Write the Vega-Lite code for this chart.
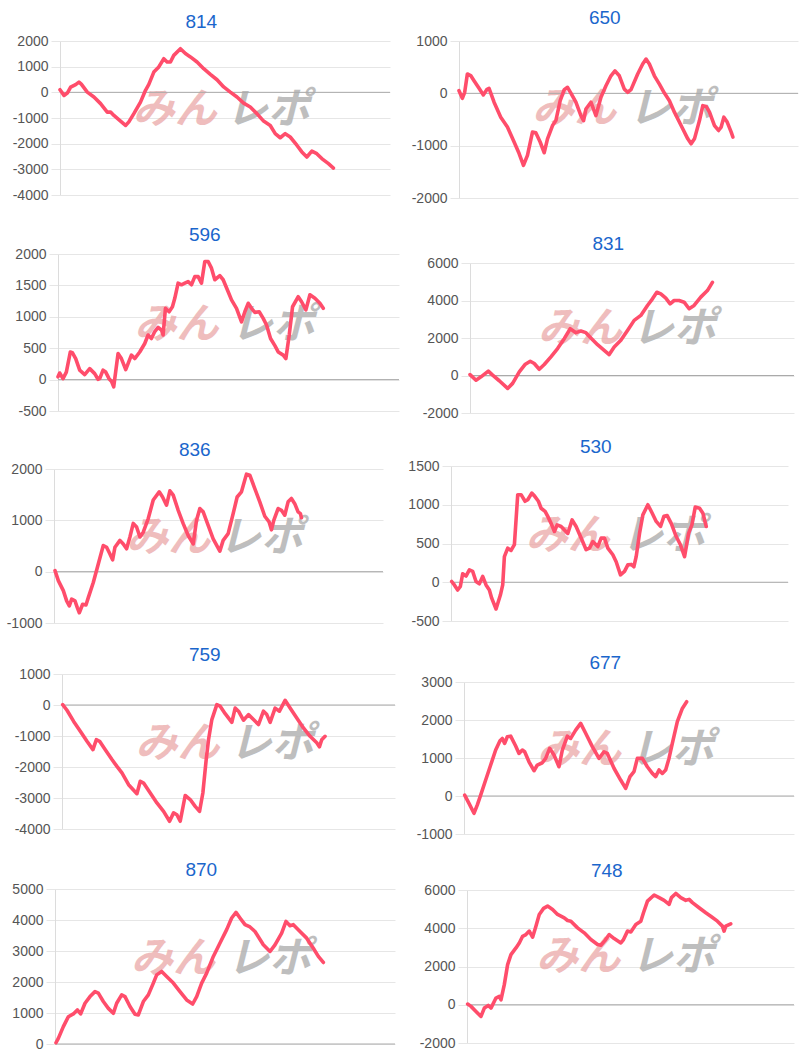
{
"$schema": "https://vega.github.io/schema/vega-lite/v6.json",
"background": "white",
"padding": {"left": 0, "top": 9, "right": 0, "bottom": 0},
"config": {
  "view": {"stroke": null},
  "axis": {"grid": true, "gridColor": "#e6e6e6", "domainColor": "#dcdcdc", "tickColor": "#e6e6e6", "tickSize": 9, "labelPadding": 3, "labelFont": "Liberation Sans", "labelFontSize": 14, "labelColor": "#555555", "labelOverlap": false, "title": null, "labelExpr": "toString(datum.value)", "minExtent": 48, "maxExtent": 48},
  "title": {"font": "Liberation Sans", "fontSize": 19, "fontWeight": "normal", "color": "#1a66cc", "anchor": "middle", "frame": "bounds", "offset": 2},
  "line": {"color": "#ff4d6b", "strokeWidth": 3.6, "strokeJoin": "round", "strokeCap": "round"},
  "text": {"font": "Noto Sans CJK JP", "fontSize": 42, "fontWeight": "bold", "fontStyle": "italic", "align": "center", "baseline": "middle"},
  "point": {"opacity": 0}
},
"datasets": {
"d814": [{"x":0,"y":100},{"x":12,"y":-120},{"x":22,"y":-30},{"x":32,"y":200},{"x":47,"y":300},{"x":57,"y":400},{"x":64,"y":320},{"x":82,"y":10},{"x":102,"y":-180},{"x":122,"y":-440},{"x":142,"y":-770},{"x":152,"y":-770},{"x":162,"y":-900},{"x":182,"y":-1120},{"x":197,"y":-1290},{"x":207,"y":-1150},{"x":222,"y":-830},{"x":242,"y":-380},{"x":257,"y":80},{"x":267,"y":310},{"x":282,"y":790},{"x":297,"y":990},{"x":312,"y":1310},{"x":322,"y":1180},{"x":332,"y":1180},{"x":342,"y":1440},{"x":362,"y":1700},{"x":377,"y":1510},{"x":392,"y":1380},{"x":412,"y":1180},{"x":432,"y":920},{"x":452,"y":700},{"x":472,"y":490},{"x":492,"y":210},{"x":512,"y":10},{"x":532,"y":-180},{"x":552,"y":-420},{"x":572,"y":-570},{"x":592,"y":-830},{"x":612,"y":-1120},{"x":632,"y":-1290},{"x":647,"y":-1610},{"x":662,"y":-1770},{"x":677,"y":-1610},{"x":692,"y":-1740},{"x":712,"y":-2060},{"x":727,"y":-2320},{"x":742,"y":-2520},{"x":757,"y":-2290},{"x":772,"y":-2390},{"x":787,"y":-2580},{"x":807,"y":-2780},{"x":822,"y":-2950}],
"d650": [{"x":0,"y":50},{"x":10,"y":-95},{"x":17,"y":20},{"x":25,"y":370},{"x":35,"y":340},{"x":45,"y":240},{"x":60,"y":95},{"x":73,"y":-30},{"x":83,"y":70},{"x":90,"y":95},{"x":105,"y":-170},{"x":125,"y":-455},{"x":145,"y":-645},{"x":165,"y":-930},{"x":180,"y":-1150},{"x":193,"y":-1375},{"x":205,"y":-1185},{"x":220,"y":-740},{"x":230,"y":-755},{"x":243,"y":-930},{"x":255,"y":-1135},{"x":265,"y":-870},{"x":280,"y":-615},{"x":290,"y":-520},{"x":303,"y":-140},{"x":315,"y":70},{"x":325,"y":115},{"x":335,"y":5},{"x":350,"y":-170},{"x":365,"y":-425},{"x":373,"y":-520},{"x":380,"y":-300},{"x":395,"y":-170},{"x":410,"y":-425},{"x":425,"y":-75},{"x":440,"y":145},{"x":455,"y":335},{"x":467,"y":430},{"x":480,"y":335},{"x":495,"y":80},{"x":505,"y":20},{"x":515,"y":70},{"x":535,"y":370},{"x":550,"y":560},{"x":560,"y":655},{"x":570,"y":560},{"x":585,"y":335},{"x":600,"y":175},{"x":615,"y":5},{"x":630,"y":-140},{"x":645,"y":-360},{"x":665,"y":-615},{"x":685,"y":-870},{"x":695,"y":-965},{"x":705,"y":-870},{"x":720,"y":-520},{"x":730,"y":-235},{"x":740,"y":-250},{"x":750,"y":-360},{"x":765,"y":-615},{"x":777,"y":-710},{"x":785,"y":-645},{"x":793,"y":-455},{"x":803,"y":-550},{"x":815,"y":-740},{"x":820,"y":-835}],
"d596": [{"x":0,"y":45},{"x":5,"y":105},{"x":15,"y":15},{"x":25,"y":120},{"x":37,"y":440},{"x":43,"y":430},{"x":53,"y":335},{"x":65,"y":150},{"x":80,"y":80},{"x":95,"y":175},{"x":110,"y":95},{"x":120,"y":5},{"x":125,"y":15},{"x":135,"y":150},{"x":143,"y":120},{"x":153,"y":15},{"x":160,"y":-25},{"x":167,"y":-115},{"x":180,"y":415},{"x":190,"y":335},{"x":203,"y":160},{"x":210,"y":255},{"x":220,"y":390},{"x":230,"y":335},{"x":245,"y":440},{"x":260,"y":575},{"x":270,"y":710},{"x":280,"y":655},{"x":290,"y":765},{"x":300,"y":830},{"x":310,"y":790},{"x":315,"y":710},{"x":322,"y":1135},{"x":333,"y":1080},{"x":343,"y":1160},{"x":350,"y":1295},{"x":360,"y":1535},{"x":370,"y":1510},{"x":380,"y":1535},{"x":390,"y":1560},{"x":400,"y":1510},{"x":410,"y":1640},{"x":420,"y":1640},{"x":430,"y":1535},{"x":440,"y":1880},{"x":450,"y":1880},{"x":460,"y":1775},{"x":470,"y":1590},{"x":485,"y":1655},{"x":495,"y":1590},{"x":510,"y":1400},{"x":520,"y":1270},{"x":535,"y":1135},{"x":550,"y":920},{"x":560,"y":1080},{"x":570,"y":1215},{"x":580,"y":1135},{"x":590,"y":1070},{"x":603,"y":1080},{"x":615,"y":975},{"x":625,"y":870},{"x":637,"y":655},{"x":650,"y":540},{"x":660,"y":440},{"x":675,"y":390},{"x":683,"y":335},{"x":693,"y":710},{"x":703,"y":1160},{"x":720,"y":1320},{"x":730,"y":1240},{"x":743,"y":1110},{"x":755,"y":1350},{"x":770,"y":1295},{"x":785,"y":1215},{"x":795,"y":1135}],
"d831": [{"x":0,"y":50},{"x":18,"y":-250},{"x":33,"y":-70},{"x":55,"y":230},{"x":68,"y":20},{"x":88,"y":-280},{"x":113,"y":-690},{"x":128,"y":-420},{"x":148,"y":195},{"x":165,"y":585},{"x":181,"y":760},{"x":193,"y":640},{"x":208,"y":335},{"x":223,"y":585},{"x":243,"y":990},{"x":263,"y":1435},{"x":283,"y":1965},{"x":301,"y":2495},{"x":318,"y":2285},{"x":333,"y":2370},{"x":348,"y":2285},{"x":363,"y":2000},{"x":383,"y":1645},{"x":403,"y":1345},{"x":418,"y":1115},{"x":433,"y":1520},{"x":453,"y":1875},{"x":473,"y":2405},{"x":493,"y":2940},{"x":513,"y":3205},{"x":533,"y":3735},{"x":548,"y":4090},{"x":561,"y":4440},{"x":573,"y":4350},{"x":588,"y":4125},{"x":601,"y":3820},{"x":613,"y":4000},{"x":628,"y":4000},{"x":643,"y":3910},{"x":658,"y":3560},{"x":673,"y":3735},{"x":693,"y":4180},{"x":713,"y":4530},{"x":728,"y":4970}],
"d836": [{"x":3,"y":20},{"x":13,"y":-175},{"x":28,"y":-370},{"x":38,"y":-570},{"x":46,"y":-665},{"x":53,"y":-535},{"x":63,"y":-570},{"x":70,"y":-700},{"x":76,"y":-800},{"x":86,"y":-635},{"x":96,"y":-650},{"x":103,"y":-505},{"x":118,"y":-210},{"x":133,"y":150},{"x":148,"y":510},{"x":158,"y":475},{"x":168,"y":345},{"x":176,"y":230},{"x":183,"y":475},{"x":198,"y":610},{"x":208,"y":540},{"x":218,"y":445},{"x":228,"y":675},{"x":238,"y":940},{"x":248,"y":870},{"x":258,"y":675},{"x":268,"y":770},{"x":283,"y":1035},{"x":298,"y":1395},{"x":316,"y":1555},{"x":326,"y":1455},{"x":338,"y":1295},{"x":348,"y":1575},{"x":358,"y":1490},{"x":373,"y":1195},{"x":388,"y":935},{"x":403,"y":705},{"x":418,"y":540},{"x":428,"y":1000},{"x":438,"y":1230},{"x":448,"y":1165},{"x":463,"y":900},{"x":478,"y":640},{"x":498,"y":400},{"x":508,"y":610},{"x":523,"y":740},{"x":538,"y":1130},{"x":550,"y":1455},{"x":563,"y":1555},{"x":578,"y":1900},{"x":588,"y":1880},{"x":603,"y":1620},{"x":618,"y":1360},{"x":633,"y":1080},{"x":646,"y":970},{"x":653,"y":815},{"x":660,"y":1000},{"x":673,"y":1230},{"x":683,"y":1195},{"x":693,"y":1100},{"x":703,"y":1360},{"x":713,"y":1425},{"x":723,"y":1325},{"x":733,"y":1165},{"x":740,"y":1130},{"x":743,"y":1050}],
"d530": [{"x":2,"y":10},{"x":10,"y":-35},{"x":20,"y":-100},{"x":28,"y":-55},{"x":35,"y":110},{"x":45,"y":80},{"x":55,"y":160},{"x":65,"y":140},{"x":75,"y":10},{"x":85,"y":-20},{"x":95,"y":75},{"x":105,"y":-35},{"x":115,"y":-100},{"x":122,"y":-205},{"x":135,"y":-345},{"x":148,"y":-165},{"x":155,"y":-35},{"x":160,"y":330},{"x":170,"y":440},{"x":180,"y":410},{"x":190,"y":485},{"x":200,"y":1130},{"x":210,"y":1130},{"x":222,"y":1045},{"x":230,"y":1065},{"x":242,"y":1150},{"x":250,"y":1115},{"x":262,"y":1045},{"x":270,"y":955},{"x":282,"y":915},{"x":290,"y":850},{"x":300,"y":760},{"x":310,"y":655},{"x":318,"y":740},{"x":330,"y":720},{"x":340,"y":675},{"x":350,"y":630},{"x":363,"y":805},{"x":375,"y":720},{"x":390,"y":570},{"x":405,"y":420},{"x":415,"y":440},{"x":425,"y":525},{"x":440,"y":460},{"x":450,"y":570},{"x":460,"y":570},{"x":470,"y":440},{"x":485,"y":355},{"x":495,"y":265},{"x":508,"y":95},{"x":520,"y":140},{"x":530,"y":225},{"x":540,"y":230},{"x":548,"y":200},{"x":555,"y":330},{"x":565,"y":630},{"x":575,"y":870},{"x":590,"y":1000},{"x":602,"y":900},{"x":615,"y":785},{"x":628,"y":720},{"x":638,"y":850},{"x":648,"y":860},{"x":660,"y":760},{"x":675,"y":590},{"x":688,"y":480},{"x":700,"y":330},{"x":712,"y":630},{"x":722,"y":740},{"x":732,"y":970},{"x":745,"y":955},{"x":755,"y":890},{"x":765,"y":720}],
"d759": [{"x":2,"y":10},{"x":15,"y":-170},{"x":35,"y":-530},{"x":55,"y":-850},{"x":75,"y":-1170},{"x":93,"y":-1440},{"x":103,"y":-1120},{"x":113,"y":-1170},{"x":130,"y":-1440},{"x":150,"y":-1760},{"x":165,"y":-1980},{"x":180,"y":-2190},{"x":200,"y":-2570},{"x":225,"y":-2860},{"x":235,"y":-2460},{"x":245,"y":-2520},{"x":265,"y":-2840},{"x":285,"y":-3160},{"x":305,"y":-3430},{"x":323,"y":-3750},{"x":335,"y":-3480},{"x":345,"y":-3540},{"x":355,"y":-3750},{"x":370,"y":-2920},{"x":385,"y":-3050},{"x":400,"y":-3270},{"x":413,"y":-3430},{"x":423,"y":-2840},{"x":433,"y":-1760},{"x":440,"y":-1120},{"x":450,"y":-470},{"x":465,"y":10},{"x":475,"y":-40},{"x":490,"y":-280},{"x":510,"y":-560},{"x":520,"y":-100},{"x":530,"y":-200},{"x":545,"y":-490},{"x":560,"y":-310},{"x":575,"y":-470},{"x":590,"y":-630},{"x":605,"y":-200},{"x":615,"y":-310},{"x":625,"y":-560},{"x":640,"y":-100},{"x":653,"y":-200},{"x":670,"y":150},{"x":685,"y":-100},{"x":705,"y":-420},{"x":725,"y":-740},{"x":745,"y":-1010},{"x":765,"y":-1220},{"x":773,"y":-1350},{"x":780,"y":-1120},{"x":790,"y":-1010}],
"d677": [{"x":2,"y":25},{"x":15,"y":-195},{"x":30,"y":-455},{"x":40,"y":-235},{"x":50,"y":25},{"x":65,"y":420},{"x":80,"y":815},{"x":95,"y":1210},{"x":108,"y":1455},{"x":115,"y":1515},{"x":122,"y":1385},{"x":130,"y":1560},{"x":140,"y":1575},{"x":155,"y":1315},{"x":165,"y":1120},{"x":175,"y":1210},{"x":182,"y":1165},{"x":195,"y":900},{"x":210,"y":665},{"x":220,"y":815},{"x":235,"y":875},{"x":245,"y":990},{"x":257,"y":1255},{"x":270,"y":1080},{"x":285,"y":770},{"x":295,"y":1210},{"x":310,"y":1575},{"x":320,"y":1515},{"x":335,"y":1735},{"x":350,"y":1910},{"x":365,"y":1650},{"x":385,"y":1300},{"x":405,"y":990},{"x":420,"y":1165},{"x":430,"y":1120},{"x":450,"y":730},{"x":470,"y":420},{"x":485,"y":200},{"x":498,"y":510},{"x":510,"y":640},{"x":520,"y":990},{"x":535,"y":990},{"x":550,"y":770},{"x":565,"y":595},{"x":575,"y":510},{"x":585,"y":685},{"x":595,"y":595},{"x":605,"y":685},{"x":615,"y":990},{"x":625,"y":1385},{"x":640,"y":1955},{"x":655,"y":2305},{"x":668,"y":2480}],
"d870": [{"x":3,"y":40},{"x":10,"y":180},{"x":25,"y":560},{"x":40,"y":880},{"x":55,"y":970},{"x":67,"y":1100},{"x":77,"y":970},{"x":90,"y":1315},{"x":105,"y":1530},{"x":120,"y":1690},{"x":130,"y":1640},{"x":145,"y":1370},{"x":160,"y":1150},{"x":175,"y":990},{"x":185,"y":1315},{"x":200,"y":1585},{"x":210,"y":1530},{"x":225,"y":1210},{"x":240,"y":960},{"x":250,"y":940},{"x":265,"y":1370},{"x":280,"y":1585},{"x":295,"y":1965},{"x":305,"y":2230},{"x":320,"y":2340},{"x":335,"y":2180},{"x":355,"y":1965},{"x":375,"y":1690},{"x":395,"y":1420},{"x":413,"y":1290},{"x":425,"y":1530},{"x":440,"y":1965},{"x":455,"y":2285},{"x":475,"y":2825},{"x":495,"y":3260},{"x":515,"y":3690},{"x":530,"y":4065},{"x":543,"y":4245},{"x":555,"y":4065},{"x":570,"y":3850},{"x":585,"y":3775},{"x":600,"y":3630},{"x":625,"y":3200},{"x":645,"y":2985},{"x":660,"y":3200},{"x":680,"y":3580},{"x":693,"y":3955},{"x":705,"y":3815},{"x":715,"y":3850},{"x":735,"y":3630},{"x":755,"y":3415},{"x":775,"y":3090},{"x":790,"y":2825},{"x":805,"y":2630}],
"d748": [{"x":2,"y":35},{"x":12,"y":-85},{"x":27,"y":-350},{"x":42,"y":-610},{"x":52,"y":-175},{"x":64,"y":-35},{"x":72,"y":-175},{"x":87,"y":350},{"x":97,"y":435},{"x":102,"y":260},{"x":112,"y":1050},{"x":122,"y":2100},{"x":132,"y":2620},{"x":147,"y":2970},{"x":157,"y":3230},{"x":167,"y":3580},{"x":177,"y":3670},{"x":187,"y":3850},{"x":197,"y":3530},{"x":207,"y":4110},{"x":217,"y":4720},{"x":230,"y":5040},{"x":242,"y":5160},{"x":257,"y":4985},{"x":272,"y":4720},{"x":292,"y":4545},{"x":302,"y":4405},{"x":312,"y":4370},{"x":332,"y":4020},{"x":352,"y":3760},{"x":372,"y":3410},{"x":392,"y":3150},{"x":402,"y":3110},{"x":414,"y":3355},{"x":427,"y":3670},{"x":442,"y":3460},{"x":462,"y":3230},{"x":470,"y":3410},{"x":482,"y":3850},{"x":492,"y":3810},{"x":507,"y":4200},{"x":522,"y":4370},{"x":530,"y":4810},{"x":542,"y":5420},{"x":562,"y":5740},{"x":577,"y":5600},{"x":592,"y":5460},{"x":607,"y":5250},{"x":614,"y":5600},{"x":627,"y":5820},{"x":642,"y":5600},{"x":657,"y":5460},{"x":667,"y":5510},{"x":677,"y":5340},{"x":697,"y":5070},{"x":717,"y":4810},{"x":732,"y":4630},{"x":752,"y":4370},{"x":767,"y":4110},{"x":772,"y":3850},{"x":777,"y":4110},{"x":792,"y":4230}]
},
"spacing": 1,
"hconcat": [
{"concat": [
 {"spacing": 0, "hconcat": [
  {"width": 12, "height": 1, "data": {"values": []}, "mark": "point"},
  {"title": {"text": "814"}, "width": 330, "height": 154, "layer": [
   {"data": {"values": [{}]}, "mark": {"type": "text", "text": "みん", "color": "#eaa7a7", "opacity": 0.75}, "encoding": {"x": {"datum": 345, "type": "quantitative", "scale": {"domain": [0, 992]}, "axis": null}, "y": {"datum": -700, "type": "quantitative", "scale": {"domain": [-4000, 2000], "nice": false, "zero": false}, "axis": {"values": [-4000,-3000,-2000,-1000,0,1000,2000]}}}},
   {"data": {"values": [{}]}, "mark": {"type": "text", "text": "レポ", "color": "#b3b3b3", "opacity": 0.85}, "encoding": {"x": {"datum": 625, "type": "quantitative", "scale": {"domain": [0, 992]}, "axis": null}, "y": {"datum": -700, "type": "quantitative", "scale": {"domain": [-4000, 2000], "nice": false, "zero": false}, "axis": {"values": [-4000,-3000,-2000,-1000,0,1000,2000]}}}},
   {"data": {"values": [{}]}, "mark": {"type": "rule", "color": "#aaaaaa"}, "encoding": {"y": {"datum": 0, "type": "quantitative", "scale": {"domain": [-4000, 2000], "nice": false, "zero": false}, "axis": {"values": [-4000,-3000,-2000,-1000,0,1000,2000]}}}},
   {"data": {"name": "d814"}, "mark": "line", "encoding": {"x": {"field": "x", "type": "quantitative", "scale": {"domain": [0, 992]}, "axis": null}, "y": {"field": "y", "type": "quantitative", "scale": {"domain": [-4000, 2000], "nice": false, "zero": false}, "axis": {"values": [-4000,-3000,-2000,-1000,0,1000,2000]}}}}
  ]}
 ]},
 {"concat": [
  {"spacing": 0, "hconcat": [
   {"width": 10, "height": 1, "data": {"values": []}, "mark": "point"},
   {"title": {"text": "596"}, "width": 341, "height": 157, "layer": [
    {"data": {"values": [{}]}, "mark": {"type": "text", "text": "みん", "color": "#eaa7a7", "opacity": 0.75}, "encoding": {"x": {"datum": 355, "type": "quantitative", "scale": {"domain": [0, 1022]}, "axis": null}, "y": {"datum": 875, "type": "quantitative", "scale": {"domain": [-500, 2000], "nice": false, "zero": false}, "axis": {"values": [-500,0,500,1000,1500,2000]}}}},
    {"data": {"values": [{}]}, "mark": {"type": "text", "text": "レポ", "color": "#b3b3b3", "opacity": 0.85}, "encoding": {"x": {"datum": 644, "type": "quantitative", "scale": {"domain": [0, 1022]}, "axis": null}, "y": {"datum": 875, "type": "quantitative", "scale": {"domain": [-500, 2000], "nice": false, "zero": false}, "axis": {"values": [-500,0,500,1000,1500,2000]}}}},
    {"data": {"values": [{}]}, "mark": {"type": "rule", "color": "#aaaaaa"}, "encoding": {"y": {"datum": 0, "type": "quantitative", "scale": {"domain": [-500, 2000], "nice": false, "zero": false}, "axis": {"values": [-500,0,500,1000,1500,2000]}}}},
    {"data": {"name": "d596"}, "mark": "line", "encoding": {"x": {"field": "x", "type": "quantitative", "scale": {"domain": [0, 1022]}, "axis": null}, "y": {"field": "y", "type": "quantitative", "scale": {"domain": [-500, 2000], "nice": false, "zero": false}, "axis": {"values": [-500,0,500,1000,1500,2000]}}}}
   ]}
  ]},
  {"concat": [
   {"spacing": 0, "hconcat": [
    {"width": 6, "height": 1, "data": {"values": []}, "mark": "point"},
    {"title": {"text": "836"}, "width": 329, "height": 154, "layer": [
     {"data": {"values": [{}]}, "mark": {"type": "text", "text": "みん", "color": "#eaa7a7", "opacity": 0.75}, "encoding": {"x": {"datum": 343, "type": "quantitative", "scale": {"domain": [0, 988]}, "axis": null}, "y": {"datum": 650, "type": "quantitative", "scale": {"domain": [-1000, 2000], "nice": false, "zero": false}, "axis": {"values": [-1000,0,1000,2000]}}}},
     {"data": {"values": [{}]}, "mark": {"type": "text", "text": "レポ", "color": "#b3b3b3", "opacity": 0.85}, "encoding": {"x": {"datum": 622, "type": "quantitative", "scale": {"domain": [0, 988]}, "axis": null}, "y": {"datum": 650, "type": "quantitative", "scale": {"domain": [-1000, 2000], "nice": false, "zero": false}, "axis": {"values": [-1000,0,1000,2000]}}}},
     {"data": {"values": [{}]}, "mark": {"type": "rule", "color": "#aaaaaa"}, "encoding": {"y": {"datum": 0, "type": "quantitative", "scale": {"domain": [-1000, 2000], "nice": false, "zero": false}, "axis": {"values": [-1000,0,1000,2000]}}}},
     {"data": {"name": "d836"}, "mark": "line", "encoding": {"x": {"field": "x", "type": "quantitative", "scale": {"domain": [0, 988]}, "axis": null}, "y": {"field": "y", "type": "quantitative", "scale": {"domain": [-1000, 2000], "nice": false, "zero": false}, "axis": {"values": [-1000,0,1000,2000]}}}}
    ]}
   ]},
   {"concat": [
    {"spacing": 0, "hconcat": [
     {"width": 14, "height": 1, "data": {"values": []}, "mark": "point"},
     {"title": {"text": "759"}, "width": 333, "height": 155, "layer": [
      {"data": {"values": [{}]}, "mark": {"type": "text", "text": "みん", "color": "#eaa7a7", "opacity": 0.75}, "encoding": {"x": {"datum": 347, "type": "quantitative", "scale": {"domain": [0, 1000]}, "axis": null}, "y": {"datum": -1250, "type": "quantitative", "scale": {"domain": [-4000, 1000], "nice": false, "zero": false}, "axis": {"values": [-4000,-3000,-2000,-1000,0,1000]}}}},
      {"data": {"values": [{}]}, "mark": {"type": "text", "text": "レポ", "color": "#b3b3b3", "opacity": 0.85}, "encoding": {"x": {"datum": 630, "type": "quantitative", "scale": {"domain": [0, 1000]}, "axis": null}, "y": {"datum": -1250, "type": "quantitative", "scale": {"domain": [-4000, 1000], "nice": false, "zero": false}, "axis": {"values": [-4000,-3000,-2000,-1000,0,1000]}}}},
      {"data": {"values": [{}]}, "mark": {"type": "rule", "color": "#aaaaaa"}, "encoding": {"y": {"datum": 0, "type": "quantitative", "scale": {"domain": [-4000, 1000], "nice": false, "zero": false}, "axis": {"values": [-4000,-3000,-2000,-1000,0,1000]}}}},
      {"data": {"name": "d759"}, "mark": "line", "encoding": {"x": {"field": "x", "type": "quantitative", "scale": {"domain": [0, 1000]}, "axis": null}, "y": {"field": "y", "type": "quantitative", "scale": {"domain": [-4000, 1000], "nice": false, "zero": false}, "axis": {"values": [-4000,-3000,-2000,-1000,0,1000]}}}}
     ]}
    ]},
    {"spacing": 0, "hconcat": [
     {"width": 7, "height": 1, "data": {"values": []}, "mark": "point"},
     {"title": {"text": "870"}, "width": 340, "height": 155, "layer": [
      {"data": {"values": [{}]}, "mark": {"type": "text", "text": "みん", "color": "#eaa7a7", "opacity": 0.75}, "encoding": {"x": {"datum": 354, "type": "quantitative", "scale": {"domain": [0, 1020]}, "axis": null}, "y": {"datum": 2750, "type": "quantitative", "scale": {"domain": [0, 5000], "nice": false, "zero": false}, "axis": {"values": [0,1000,2000,3000,4000,5000]}}}},
      {"data": {"values": [{}]}, "mark": {"type": "text", "text": "レポ", "color": "#b3b3b3", "opacity": 0.85}, "encoding": {"x": {"datum": 643, "type": "quantitative", "scale": {"domain": [0, 1020]}, "axis": null}, "y": {"datum": 2750, "type": "quantitative", "scale": {"domain": [0, 5000], "nice": false, "zero": false}, "axis": {"values": [0,1000,2000,3000,4000,5000]}}}},
      {"data": {"values": [{}]}, "mark": {"type": "rule", "color": "#aaaaaa"}, "encoding": {"y": {"datum": 0, "type": "quantitative", "scale": {"domain": [0, 5000], "nice": false, "zero": false}, "axis": {"values": [0,1000,2000,3000,4000,5000]}}}},
      {"data": {"name": "d870"}, "mark": "line", "encoding": {"x": {"field": "x", "type": "quantitative", "scale": {"domain": [0, 1020]}, "axis": null}, "y": {"field": "y", "type": "quantitative", "scale": {"domain": [0, 5000], "nice": false, "zero": false}, "axis": {"values": [0,1000,2000,3000,4000,5000]}}}}
     ]}
    ]}
   ], "columns": 1, "spacing": 25}
  ], "columns": 1, "spacing": 16}
 ], "columns": 1, "spacing": 23}
], "columns": 1, "spacing": 24},
{"concat": [
 {"spacing": 0, "hconcat": [
  {"width": 10, "height": 1, "data": {"values": []}, "mark": "point"},
  {"title": {"text": "650", "offset": 6}, "width": 339, "height": 157, "layer": [
   {"data": {"values": [{}]}, "mark": {"type": "text", "text": "みん", "color": "#eaa7a7", "opacity": 0.75}, "encoding": {"x": {"datum": 345, "type": "quantitative", "scale": {"domain": [0, 1015]}, "axis": null}, "y": {"datum": -290, "type": "quantitative", "scale": {"domain": [-2000, 1000], "nice": false, "zero": false}, "axis": {"values": [-2000,-1000,0,1000]}}}},
   {"data": {"values": [{}]}, "mark": {"type": "text", "text": "レポ", "color": "#b3b3b3", "opacity": 0.85}, "encoding": {"x": {"datum": 634, "type": "quantitative", "scale": {"domain": [0, 1015]}, "axis": null}, "y": {"datum": -290, "type": "quantitative", "scale": {"domain": [-2000, 1000], "nice": false, "zero": false}, "axis": {"values": [-2000,-1000,0,1000]}}}},
   {"data": {"values": [{}]}, "mark": {"type": "rule", "color": "#aaaaaa"}, "encoding": {"y": {"datum": 0, "type": "quantitative", "scale": {"domain": [-2000, 1000], "nice": false, "zero": false}, "axis": {"values": [-2000,-1000,0,1000]}}}},
   {"data": {"name": "d650"}, "mark": "line", "encoding": {"x": {"field": "x", "type": "quantitative", "scale": {"domain": [0, 1015]}, "axis": null}, "y": {"field": "y", "type": "quantitative", "scale": {"domain": [-2000, 1000], "nice": false, "zero": false}, "axis": {"values": [-2000,-1000,0,1000]}}}}
  ]}
 ]},
 {"concat": [
  {"spacing": 0, "hconcat": [
   {"width": 21, "height": 1, "data": {"values": []}, "mark": "point"},
   {"title": {"text": "831"}, "width": 324, "height": 150, "layer": [
    {"data": {"values": [{}]}, "mark": {"type": "text", "text": "みん", "color": "#eaa7a7", "opacity": 0.75}, "encoding": {"x": {"datum": 330, "type": "quantitative", "scale": {"domain": [0, 973]}, "axis": null}, "y": {"datum": 2500, "type": "quantitative", "scale": {"domain": [-2000, 6000], "nice": false, "zero": false}, "axis": {"values": [-2000,0,2000,4000,6000]}}}},
    {"data": {"values": [{}]}, "mark": {"type": "text", "text": "レポ", "color": "#b3b3b3", "opacity": 0.85}, "encoding": {"x": {"datum": 613, "type": "quantitative", "scale": {"domain": [0, 973]}, "axis": null}, "y": {"datum": 2500, "type": "quantitative", "scale": {"domain": [-2000, 6000], "nice": false, "zero": false}, "axis": {"values": [-2000,0,2000,4000,6000]}}}},
    {"data": {"values": [{}]}, "mark": {"type": "rule", "color": "#aaaaaa"}, "encoding": {"y": {"datum": 0, "type": "quantitative", "scale": {"domain": [-2000, 6000], "nice": false, "zero": false}, "axis": {"values": [-2000,0,2000,4000,6000]}}}},
    {"data": {"name": "d831"}, "mark": "line", "encoding": {"x": {"field": "x", "type": "quantitative", "scale": {"domain": [0, 973]}, "axis": null}, "y": {"field": "y", "type": "quantitative", "scale": {"domain": [-2000, 6000], "nice": false, "zero": false}, "axis": {"values": [-2000,0,2000,4000,6000]}}}}
   ]}
  ]},
  {"concat": [
   {"spacing": 0, "hconcat": [
    {"width": 2, "height": 1, "data": {"values": []}, "mark": "point"},
    {"title": {"text": "530"}, "width": 337, "height": 155, "layer": [
     {"data": {"values": [{}]}, "mark": {"type": "text", "text": "みん", "color": "#eaa7a7", "opacity": 0.75}, "encoding": {"x": {"datum": 350, "type": "quantitative", "scale": {"domain": [0, 1010]}, "axis": null}, "y": {"datum": 600, "type": "quantitative", "scale": {"domain": [-500, 1500], "nice": false, "zero": false}, "axis": {"values": [-500,0,500,1000,1500]}}}},
     {"data": {"values": [{}]}, "mark": {"type": "text", "text": "レポ", "color": "#b3b3b3", "opacity": 0.85}, "encoding": {"x": {"datum": 636, "type": "quantitative", "scale": {"domain": [0, 1010]}, "axis": null}, "y": {"datum": 600, "type": "quantitative", "scale": {"domain": [-500, 1500], "nice": false, "zero": false}, "axis": {"values": [-500,0,500,1000,1500]}}}},
     {"data": {"values": [{}]}, "mark": {"type": "rule", "color": "#aaaaaa"}, "encoding": {"y": {"datum": 0, "type": "quantitative", "scale": {"domain": [-500, 1500], "nice": false, "zero": false}, "axis": {"values": [-500,0,500,1000,1500]}}}},
     {"data": {"name": "d530"}, "mark": "line", "encoding": {"x": {"field": "x", "type": "quantitative", "scale": {"domain": [0, 1010]}, "axis": null}, "y": {"field": "y", "type": "quantitative", "scale": {"domain": [-500, 1500], "nice": false, "zero": false}, "axis": {"values": [-500,0,500,1000,1500]}}}}
    ]}
   ]},
   {"concat": [
    {"spacing": 0, "hconcat": [
     {"width": 15, "height": 1, "data": {"values": []}, "mark": "point"},
     {"title": {"text": "677"}, "width": 330, "height": 152, "layer": [
      {"data": {"values": [{}]}, "mark": {"type": "text", "text": "みん", "color": "#eaa7a7", "opacity": 0.75}, "encoding": {"x": {"datum": 345, "type": "quantitative", "scale": {"domain": [0, 990]}, "axis": null}, "y": {"datum": 1200, "type": "quantitative", "scale": {"domain": [-1000, 3000], "nice": false, "zero": false}, "axis": {"values": [-1000,0,1000,2000,3000]}}}},
      {"data": {"values": [{}]}, "mark": {"type": "text", "text": "レポ", "color": "#b3b3b3", "opacity": 0.85}, "encoding": {"x": {"datum": 624, "type": "quantitative", "scale": {"domain": [0, 990]}, "axis": null}, "y": {"datum": 1200, "type": "quantitative", "scale": {"domain": [-1000, 3000], "nice": false, "zero": false}, "axis": {"values": [-1000,0,1000,2000,3000]}}}},
      {"data": {"values": [{}]}, "mark": {"type": "rule", "color": "#aaaaaa"}, "encoding": {"y": {"datum": 0, "type": "quantitative", "scale": {"domain": [-1000, 3000], "nice": false, "zero": false}, "axis": {"values": [-1000,0,1000,2000,3000]}}}},
      {"data": {"name": "d677"}, "mark": "line", "encoding": {"x": {"field": "x", "type": "quantitative", "scale": {"domain": [0, 990]}, "axis": null}, "y": {"field": "y", "type": "quantitative", "scale": {"domain": [-1000, 3000], "nice": false, "zero": false}, "axis": {"values": [-1000,0,1000,2000,3000]}}}}
     ]}
    ]},
    {"spacing": 0, "hconcat": [
     {"width": 18, "height": 1, "data": {"values": []}, "mark": "point"},
     {"title": {"text": "748"}, "width": 327, "height": 153, "layer": [
      {"data": {"values": [{}]}, "mark": {"type": "text", "text": "みん", "color": "#eaa7a7", "opacity": 0.75}, "encoding": {"x": {"datum": 334, "type": "quantitative", "scale": {"domain": [0, 982]}, "axis": null}, "y": {"datum": 2500, "type": "quantitative", "scale": {"domain": [-2000, 6000], "nice": false, "zero": false}, "axis": {"values": [-2000,0,2000,4000,6000]}}}},
      {"data": {"values": [{}]}, "mark": {"type": "text", "text": "レポ", "color": "#b3b3b3", "opacity": 0.85}, "encoding": {"x": {"datum": 619, "type": "quantitative", "scale": {"domain": [0, 982]}, "axis": null}, "y": {"datum": 2500, "type": "quantitative", "scale": {"domain": [-2000, 6000], "nice": false, "zero": false}, "axis": {"values": [-2000,0,2000,4000,6000]}}}},
      {"data": {"values": [{}]}, "mark": {"type": "rule", "color": "#aaaaaa"}, "encoding": {"y": {"datum": 0, "type": "quantitative", "scale": {"domain": [-2000, 6000], "nice": false, "zero": false}, "axis": {"values": [-2000,0,2000,4000,6000]}}}},
      {"data": {"name": "d748"}, "mark": "line", "encoding": {"x": {"field": "x", "type": "quantitative", "scale": {"domain": [0, 982]}, "axis": null}, "y": {"field": "y", "type": "quantitative", "scale": {"domain": [-2000, 6000], "nice": false, "zero": false}, "axis": {"values": [-2000,0,2000,4000,6000]}}}}
     ]}
    ]}
   ], "columns": 1, "spacing": 21}
  ], "columns": 1, "spacing": 26}
 ], "columns": 1, "spacing": 18}
], "columns": 1, "spacing": 30}
]
}
